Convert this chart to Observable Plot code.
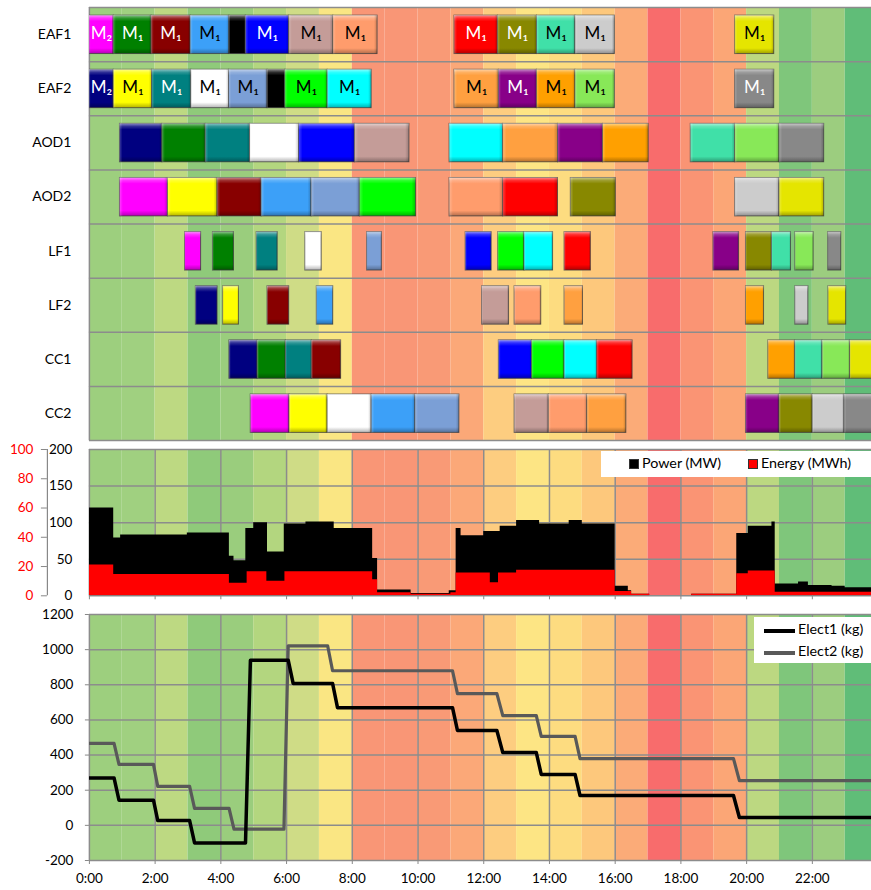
<!DOCTYPE html>
<html><head><meta charset="utf-8">
<script src="https://cdn.jsdelivr.net/npm/d3@7"></script>
<script src="https://cdn.jsdelivr.net/npm/@observablehq/plot@0.6"></script>
<style>
body{margin:0;background:#fff;overflow:hidden;font-family:Lato,"Open Sans",sans-serif;}
#wrap{position:relative;width:871px;height:890px;overflow:hidden;}
.panel{position:absolute;left:0;}
.legend{position:absolute;background:#fff;font-size:14.3px;color:#000;}
.legend span{position:absolute;white-space:nowrap;}
.sw{width:10px;height:10px;border:1px solid #333;box-sizing:border-box;}
.ln{height:3.5px;}
</style></head><body>
<svg width="0" height="0" style="position:absolute">
<defs>
<linearGradient id="bevelV" x1="0" y1="0" x2="0" y2="1">
 <stop offset="0" stop-color="#fff" stop-opacity="0.55"/>
 <stop offset="0.08" stop-color="#fff" stop-opacity="0.18"/>
 <stop offset="0.16" stop-color="#fff" stop-opacity="0"/>
 <stop offset="0.86" stop-color="#000" stop-opacity="0"/>
 <stop offset="1" stop-color="#000" stop-opacity="0.3"/>
</linearGradient>
<linearGradient id="bevelH" x1="0" y1="0" x2="1" y2="0">
 <stop offset="0" stop-color="#fff" stop-opacity="0.25"/>
 <stop offset="0.07" stop-color="#fff" stop-opacity="0"/>
 <stop offset="0.93" stop-color="#000" stop-opacity="0"/>
 <stop offset="1" stop-color="#000" stop-opacity="0.22"/>
</linearGradient>
</defs>
</svg>
<div id="wrap">
  <div id="gantt" class="panel" style="top:0"></div>
  <div id="power" class="panel" style="top:442px"></div>
  <div id="elect" class="panel" style="top:602px"></div>
  <div class="legend" style="left:601px;top:451px;width:270px;height:26px">
    <span class="sw" style="left:28px;top:8px;background:#000"></span><span style="left:41px;top:3px">Power (MW)</span>
    <span class="sw" style="left:147px;top:8px;background:#ff0000"></span><span style="left:160px;top:3px">Energy (MWh)</span>
  </div>
  <div class="legend" style="left:754px;top:617px;width:117px;height:46px">
    <span class="ln" style="left:10px;top:12px;width:31px;background:#000"></span><span style="left:44px;top:3px">Elect1 (kg)</span>
    <span class="ln" style="left:10px;top:34px;width:31px;background:#595959"></span><span style="left:44px;top:25px">Elect2 (kg)</span>
  </div>
</div>
<script>
// ---------- data ----------
const rows = ["EAF1","EAF2","AOD1","AOD2","LF1","LF2","CC1","CC2"];
const heats = ["H01","H02","H03","H04","H05","H06","H07","H08","H09","H10","H11","H12","H13","H14","H15","H16","H17","H18","H19","H20","H21","H22","H23","H24","idle"];
const heatColors = ["#000080","#ff00ff","#008000","#ffff00","#008080","#880000","#ffffff","#3ca0f8","#0000ff","#7b9fd6","#c49c98","#00ff00","#00ffff","#ff9c6c","#ffa040","#ff0000","#880088","#888800","#ffa000","#40e0a8","#cccccc","#88e858","#e5e500","#888888","#000000"];
const hourColors = ["#9dcf7e","#a0d080","#bdd982","#8fca7a","#9acd7d","#b3d67f","#cfdc86","#fae683","#f99676","#f99676","#f99a76","#fba878","#fdcd80","#fde584","#fddc80","#fdc87c","#fbab78","#f86c6c","#fa9474","#fba676","#bcd881","#7fc67b","#9ccd7f","#60bd78"];

// [heat, start (h), end (h), label]
const eaf1 = [["H02",0,0.74,"M₂"],["H03",0.74,1.89,"M₁"],["H06",1.89,3.08,"M₁"],["H08",3.08,4.26,"M₁"],["idle",4.26,4.76,""],["H09",4.76,6.08,"M₁"],["H11",6.08,7.42,"M₁"],["H14",7.42,8.77,"M₁"],["H16",11.11,12.43,"M₁"],["H18",12.43,13.62,"M₁"],["H20",13.62,14.79,"M₁"],["H21",14.79,15.99,"M₁"],["H23",19.65,20.84,"M₁"]];
const eaf2 = [["H01",0,0.74,"M₂"],["H04",0.74,1.91,"M₁"],["H05",1.91,3.1,"M₁"],["H07",3.1,4.25,"M₁"],["H10",4.25,5.42,"M₁"],["idle",5.42,5.96,""],["H12",5.96,7.25,"M₁"],["H13",7.25,8.59,"M₁"],["H15",11.11,12.46,"M₁"],["H17",12.46,13.62,"M₁"],["H19",13.62,14.79,"M₁"],["H22",14.79,15.99,"M₁"],["H24",19.65,20.84,"M₁"]];
const aod1 = [["H01",0.93,2.22],["H03",2.22,3.54],["H05",3.54,4.89],["H07",4.89,6.38],["H09",6.38,8.08],["H11",8.08,9.74],["H13",10.96,12.59],["H15",12.59,14.26],["H17",14.26,15.63],["H19",15.63,17.02],["H20",18.3,19.65],["H22",19.65,21.0],["H24",21.0,22.36]];
const aod2 = [["H02",0.93,2.39],["H04",2.39,3.9],["H06",3.9,5.24],["H08",5.24,6.76],["H10",6.76,8.23],["H12",8.23,9.94],["H14",10.96,12.59],["H16",12.59,14.26],["H18",14.65,16.02],["H21",19.65,21.0],["H23",21.0,22.36]];
const lf1 = [["H02",2.91,3.4],["H03",3.76,4.4],["H05",5.09,5.73],["H07",6.57,7.07],["H10",8.45,8.9],["H09",11.45,12.24],["H12",12.44,13.24],["H13",13.24,14.11],["H16",14.46,15.26],["H17",18.99,19.77],["H18",19.98,20.77],["H20",20.77,21.35],["H22",21.48,22.04],["H24",22.48,22.88]];
const lf2 = [["H01",3.24,3.9],["H04",4.07,4.55],["H06",5.42,6.08],["H08",6.92,7.42],["H11",11.95,12.77],["H14",12.94,13.75],["H15",14.46,15.02],["H19",19.98,20.53],["H21",21.48,21.88],["H23",22.49,23.03]];
const cc1 = [["H01",4.26,5.12],["H03",5.12,5.98],["H05",5.98,6.77],["H06",6.77,7.66],["H09",12.46,13.47],["H12",13.47,14.46],["H13",14.46,15.45],["H16",15.45,16.53],["H19",20.66,21.48],["H20",21.48,22.31],["H22",22.31,23.15],["H23",23.15,24]];
const cc2 = [["H02",4.91,6.09],["H04",6.09,7.25],["H07",7.25,8.59],["H08",8.59,9.92],["H10",9.92,11.26],["H11",12.94,13.98],["H14",13.98,15.15],["H15",15.15,16.34],["H17",19.98,21.0],["H18",21.0,22.01],["H21",22.01,22.98],["H24",22.98,24]];

// power (MW) and energy (MWh) step profiles: start times and values
const powerT = [0,0.74,0.95,2.98,4.26,4.40,4.76,5.00,5.42,5.93,6.59,7.45,8.62,8.77,9.79,10.95,11.16,11.31,12.0,12.5,13.0,13.7,14.6,15.0,16.0,16.4,16.5,17.05,18.33,19.7,20.05,20.77,20.87,21.58,21.88,22.6,23.0,23.85];
const powerV = [120,79,83,86,54,48,92,100,60,98,101,92,51,8,3,7,92,82,88,95,103,98,103,98,13,7,2,0,2,85,95,101,16,19,14,13,11,11];
const energyT = [0,0.74,4.26,4.8,5.4,5.95,8.62,8.77,9.79,11.0,11.16,12.2,12.45,13.0,16.0,16.5,17.05,18.33,19.7,20.05,20.87,23.85];
const energyV = [21,14.5,8.5,16.5,10,16.5,11,2,1,2,15.5,9,15.5,17.5,3,1,0,1,15,17,2.5,2.5];

// electrode consumption (kg)
const elect1T = [0,0.75,0.9,1.95,2.08,3.05,3.2,4.75,4.9,6.05,6.2,7.4,7.55,11.05,11.2,12.4,12.58,13.6,13.75,14.78,14.93,19.6,19.78,23.85];
const elect1V = [270,270,143,143,27,27,-100,-100,940,940,808,808,670,670,540,540,414,414,290,290,170,170,45,45];
const elect2T = [0,0.75,0.9,1.95,2.08,3.05,3.2,4.25,4.4,5.92,6.05,7.25,7.4,11.05,11.2,12.4,12.58,13.6,13.75,14.78,14.93,19.6,19.78,23.85];
const elect2V = [467,467,347,347,222,222,97,97,-22,-22,1022,1022,880,880,750,750,624,624,506,506,380,380,255,255];

const timeTicks = [0,2,4,6,8,10,12,14,16,18,20,22];
const powerTicks = [0,50,100,150,200];
const energyTicks = [0,20,40,60,80,100];
const electTicks = [-200,0,200,400,600,800,1000,1200];

// ---------- build ----------
const W = 871, ML = 88.9, XMAX = 23.8;
const hours = d3.range(24);
const colorOf = h => heatColors[heats.indexOf(h)];
const tasks = [eaf1,eaf2,aod1,aod2,lf1,lf2,cc1,cc2].flatMap((arr,i) =>
  arr.map(([heat,start,end,label]) => ({row:i, heat, start, end, label: label || ""})));
const labelled = tasks.filter(d => d.label);
const toSeries = (T,V) => T.map((t,i) => ({t, v: V[i]}));
const powerData = toSeries(powerT, powerV);
const energyData = toSeries(energyT, energyV);
const e1 = toSeries(elect1T, elect1V), e2 = toSeries(elect2T, elect2V);
const grid = "#8c8c8c";
const bg = Plot.rect(hours, {x1: d => d, x2: d => d + 1, fill: d => hourColors[d], clip: true});
const baseStyle = {fontFamily: "Lato, 'Open Sans', sans-serif", fontSize: "13.5px", background: "transparent", color: "#000"};

const gantt = Plot.plot({
  width: W, height: 442, marginLeft: ML, marginRight: 0, marginTop: 7, marginBottom: 2,
  style: {...baseStyle, fontSize: "14px"},
  x: {domain: [0, XMAX], axis: null},
  y: {domain: [0, 8], reverse: true, axis: null},
  color: {type: "identity"},
  marks: [
    bg,
    Plot.ruleY(d3.range(9), {stroke: grid, strokeWidth: 1.5}),
    Plot.ruleX([0], {stroke: grid, strokeWidth: 1.5}),
    Plot.rect(tasks, {x1: "start", x2: "end", y1: d => d.row + 0.15, y2: d => d.row + 0.86, fill: d => colorOf(d.heat), stroke: "#4a4a4a", strokeOpacity: 0.75, strokeWidth: 1, clip: true}),
    Plot.rect(tasks, {x1: "start", x2: "end", y1: d => d.row + 0.15, y2: d => d.row + 0.86, fill: "url(#bevelV)", clip: true}),
    Plot.rect(tasks, {x1: "start", x2: "end", y1: d => d.row + 0.15, y2: d => d.row + 0.86, fill: "url(#bevelH)", clip: true}),
    Plot.text(labelled, {x: d => (d.start + d.end) / 2, y: d => d.row + 0.48, text: "label", fontSize: 17, fontFamily: "Lato, 'DejaVu Sans', sans-serif",
      fill: d => d3.lab(colorOf(d.heat)).l < 62 ? "#ffffff" : "#000000"}),
    Plot.axisY({ticks: d3.range(8).map(i => i + 0.5), tickFormat: d => rows[Math.floor(d)], tickSize: 0, tickPadding: 18, label: null})
  ]
});
document.getElementById("gantt").append(gantt);

const power = Plot.plot({
  width: W, height: 162, marginLeft: ML, marginRight: 0, marginTop: 7, marginBottom: 8.7,
  style: baseStyle,
  x: {domain: [0, XMAX], axis: null},
  y: {domain: [0, 200], axis: null},
  color: {type: "identity"},
  marks: [
    bg,
    Plot.gridY({ticks: powerTicks, stroke: grid, strokeOpacity: 1, strokeWidth: 1.5}),
    Plot.gridX({ticks: timeTicks, stroke: grid, strokeOpacity: 1, strokeWidth: 1.5}),
    Plot.areaY(powerData, {x: "t", y: "v", curve: "step-after", fill: "#000000", clip: true}),
    Plot.areaY(energyData, {x: "t", y: d => d.v * 2, curve: "step-after", fill: "#ff0000", clip: true}),
    Plot.axisY({ticks: powerTicks, tickFormat: d => String(d), tickSize: 0, tickPadding: 17, fill: "#000", label: null}),
    Plot.axisY({ticks: energyTicks.map(e => e * 2), tickFormat: d => String(d / 2), tickSize: 0, tickPadding: 56, fill: "#ff0000", label: null}),
    Plot.axisY({ticks: energyTicks.map(e => e * 2), tickFormat: () => "", tickSize: 6, dx: -42, stroke: "#888", label: null}),
    Plot.ruleX([0], {dx: -42, stroke: "#888", strokeWidth: 1.2}),
    Plot.axisX({ticks: timeTicks, tickFormat: () => "", tickSize: 4, stroke: "#888", label: null})
  ]
});
document.getElementById("power").append(power);

const elect = Plot.plot({
  width: W, height: 288, marginLeft: ML, marginRight: 0, marginTop: 12, marginBottom: 30,
  style: baseStyle,
  x: {domain: [0, XMAX], axis: null},
  y: {domain: [-200, 1200], axis: null},
  color: {type: "identity"},
  marks: [
    bg,
    Plot.gridY({ticks: electTicks, stroke: grid, strokeOpacity: 1, strokeWidth: 1.5}),
    Plot.gridX({ticks: timeTicks, stroke: grid, strokeOpacity: 1, strokeWidth: 1.5}),
    Plot.line(e2, {x: "t", y: "v", stroke: "#595959", strokeWidth: 3.2, clip: true}),
    Plot.line(e1, {x: "t", y: "v", stroke: "#000000", strokeWidth: 3.5, clip: true}),
    Plot.axisY({ticks: electTicks, tickFormat: d => String(d), tickSize: 4, tickPadding: 12, stroke: "#888", fill: "#000", label: null}),
    Plot.axisX({ticks: timeTicks, tickFormat: d => `${d}:00`, tickSize: 4, tickPadding: 9, stroke: "#888", fill: "#000", label: null})
  ]
});
document.getElementById("elect").append(elect);
</script>
</body></html>
